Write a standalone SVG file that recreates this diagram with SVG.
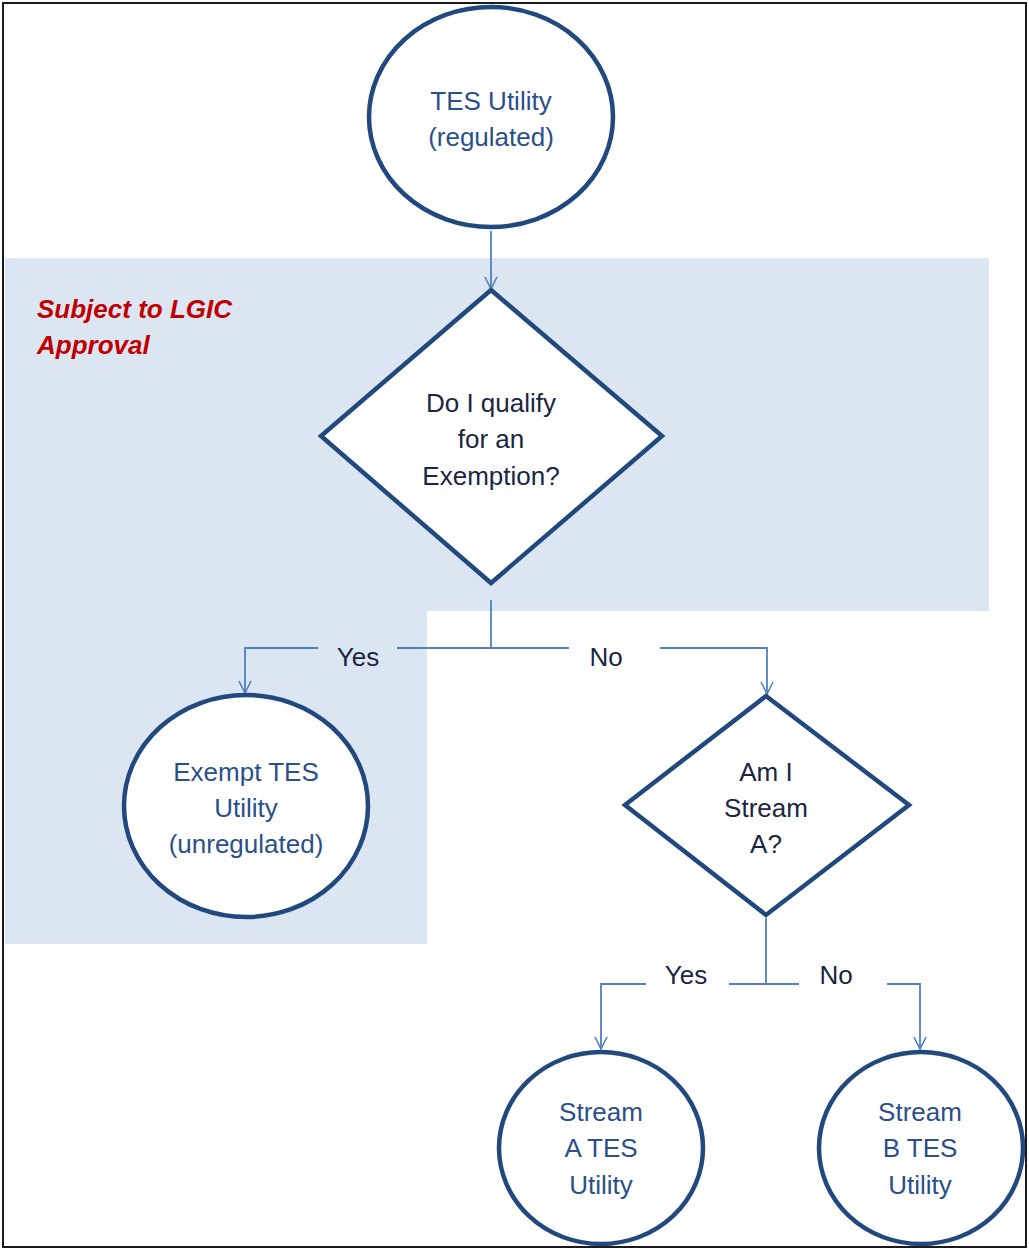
<svg xmlns="http://www.w3.org/2000/svg" width="1029" height="1249" viewBox="0 0 1029 1249">
  <defs>
    <marker id="arrow" viewBox="0 0 14 14" refX="13" refY="7" markerWidth="14" markerHeight="14" markerUnits="userSpaceOnUse" orient="auto">
      <path d="M1,1 L13,7 L1,13" fill="none" stroke="#4F81BD" stroke-width="1.6"/>
    </marker>
  </defs>
  <style>
    .node { fill: #FFFFFF; stroke: #21497E; stroke-width: 4.5; }
    .ntext { font-family: "Liberation Sans", Arial, sans-serif; font-size: 26px; fill: #2B5088; text-anchor: middle; }
    .dtext { font-family: "Liberation Sans", Arial, sans-serif; font-size: 26px; fill: #1A2640; text-anchor: middle; }
    .label { font-family: "Liberation Sans", Arial, sans-serif; font-size: 26px; fill: #1A2640; text-anchor: middle; }
    .conn { fill: none; stroke: #4F81BD; stroke-width: 1.8; }
    .note { font-family: "Liberation Sans", Arial, sans-serif; font-size: 26px; font-weight: bold; font-style: italic; fill: #C00000; }
  </style>

  <!-- page background and frame -->
  <rect x="0" y="0" width="1029" height="1249" fill="#FFFFFF"/>

  <!-- shaded approval zone -->
  <polygon id="approval-zone" points="5,258 989,258 989,611 427,611 427,944 5,944" fill="#DCE6F2"/>
  <g id="approval-note">
    <text class="note" x="37" y="318">Subject to LGIC</text>
    <text class="note" x="37" y="354">Approval</text>
  </g>

  <rect x="3" y="3" width="1023" height="1244" fill="none" stroke="#1A1A1A" stroke-width="2"/>

  <!-- connectors -->
  <g id="connectors">
    <line class="conn" x1="491" y1="231" x2="491" y2="289" marker-end="url(#arrow)"/>
    <line class="conn" x1="491" y1="600" x2="491" y2="648"/>
    <polyline class="conn" points="318,648 245,648 245,693" marker-end="url(#arrow)"/>
    <line class="conn" x1="397" y1="648" x2="569" y2="648"/>
    <polyline class="conn" points="660,648 767,648 767,694" marker-end="url(#arrow)"/>
    <line class="conn" x1="766" y1="918" x2="766" y2="984"/>
    <polyline class="conn" points="646,984 601,984 601,1049" marker-end="url(#arrow)"/>
    <line class="conn" x1="729" y1="984" x2="799" y2="984"/>
    <polyline class="conn" points="887,984 920,984 920,1049" marker-end="url(#arrow)"/>
    <text class="label" x="358" y="666">Yes</text>
    <text class="label" x="606" y="666">No</text>
    <text class="label" x="686" y="984">Yes</text>
    <text class="label" x="836" y="984">No</text>
  </g>

  <g id="tes-utility">
    <ellipse class="node" cx="491" cy="117" rx="122" ry="110"/>
    <text class="ntext" x="491" y="110">TES Utility</text>
    <text class="ntext" x="491" y="146">(regulated)</text>
  </g>

  <g id="exemption-decision">
    <polygon class="node" points="491,290 662,436 491,583 321,436"/>
    <text class="dtext" x="491" y="412">Do I qualify</text>
    <text class="dtext" x="491" y="448">for an</text>
    <text class="dtext" x="491" y="485">Exemption?</text>
  </g>

  <g id="exempt-utility">
    <ellipse class="node" cx="246" cy="806" rx="122" ry="111"/>
    <text class="ntext" x="246" y="781">Exempt TES</text>
    <text class="ntext" x="246" y="817">Utility</text>
    <text class="ntext" x="246" y="853">(unregulated)</text>
  </g>

  <g id="stream-decision">
    <polygon class="node" points="766,696 909,805 766,915 625,805"/>
    <text class="dtext" x="766" y="781">Am I</text>
    <text class="dtext" x="766" y="817">Stream</text>
    <text class="dtext" x="766" y="853">A?</text>
  </g>

  <g id="stream-a">
    <ellipse class="node" cx="601" cy="1148" rx="102" ry="96"/>
    <text class="ntext" x="601" y="1121">Stream</text>
    <text class="ntext" x="601" y="1157">A TES</text>
    <text class="ntext" x="601" y="1194">Utility</text>
  </g>

  <g id="stream-b">
    <ellipse class="node" cx="921" cy="1148" rx="102" ry="96"/>
    <text class="ntext" x="920" y="1121">Stream</text>
    <text class="ntext" x="920" y="1157">B TES</text>
    <text class="ntext" x="920" y="1194">Utility</text>
  </g>
</svg>
